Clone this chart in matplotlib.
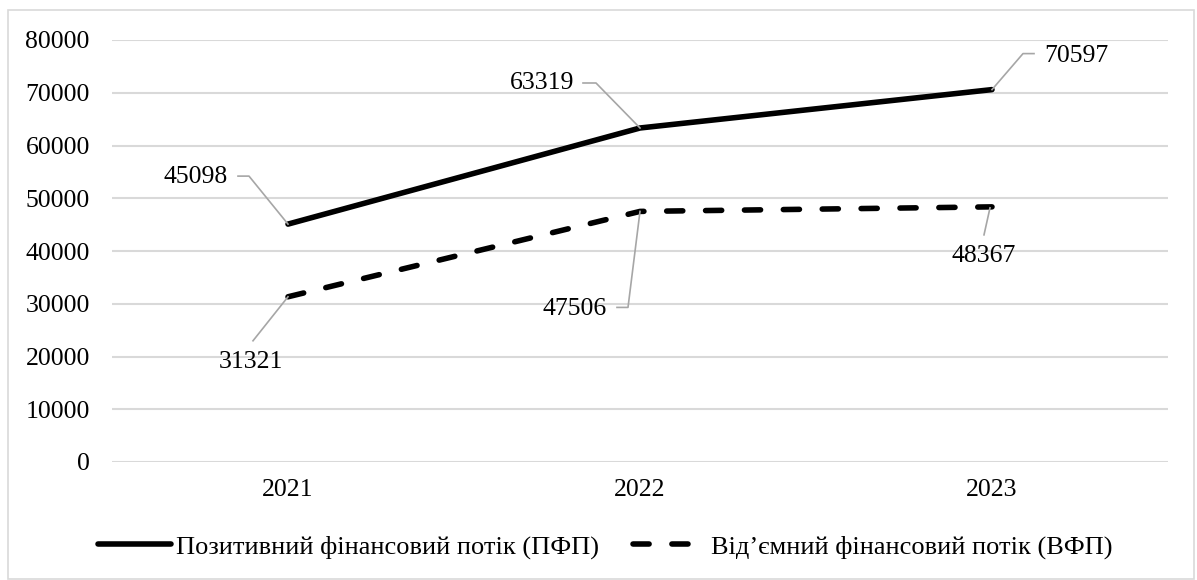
import numpy as np
import matplotlib
matplotlib.use("Agg")
import matplotlib.pyplot as plt
from matplotlib.lines import Line2D
from matplotlib.patches import Rectangle
from matplotlib.transforms import IdentityTransform

plt.rcParams['font.family'] = ['Liberation Serif', 'DejaVu Serif']

# дані
years = ['2021', '2022', '2023']
pfp = [45098, 63319, 70597]      # позитивний фінансовий потік
vfp = [31321, 47506, 48367]      # від'ємний фінансовий потік
pfp_name = 'Позитивний фінансовий потік (ПФП)'
vfp_name = 'Від’ємний фінансовий потік (ВФП)'

W, H = 1197, 580
fig = plt.figure(figsize=(W / 100, H / 100), dpi=100)
ax = fig.add_axes([112 / W, (H - 462) / H, 1056 / W, 422 / H])

x = np.arange(len(years))
ax.plot(x, pfp, color='black', lw=4.0, solid_capstyle='round', label=pfp_name)
ax.plot(x, vfp, color='black', lw=4.0, dash_capstyle='round',
        dashes=(2.9, 4.1), label=vfp_name)

ax.set_xlim(-0.5, 2.5)
ax.set_ylim(0, 80000)
ax.set_yticks(np.arange(0, 80001, 10000))
ax.set_xticks(x)
ax.set_xticklabels(years)
ax.tick_params(axis='both', length=0, labelsize=18.5)
ax.tick_params(axis='y', pad=16)
ax.tick_params(axis='x', pad=12)
ax.grid(axis='y', color='#d9d9d9', lw=1.5)
ax.set_axisbelow(True)
for s in ax.spines.values():
    s.set_visible(False)

# підписи з виносками (зсуви в пікселях: вправо, вниз)
pfp_off = [(-92, -47, [(-50, -48), (-39, -48), (0, 0)]),
           (-98, -45, [(-57, -45), (-44, -45), (0, 0)]),
           (84, -34, [(42, -36), (31, -36), (0, 0)])]
vfp_off = [(-37, 65, [(-35, 44), (0, 0)]),
           (-65, 98, [(-23, 96), (-12, 96), (0, 0)]),
           (-8, 49, [(-8, 28), (-2, 1)])]

fig.canvas.draw()
for vals, offs in ((pfp, pfp_off), (vfp, vfp_off)):
    for i, v in enumerate(vals):
        px, py = ax.transData.transform((x[i], v))
        tx, ty, path = offs[i]
        fig.text((px + tx) / W, (py - ty) / H, str(v), fontsize=18.5,
                 ha='center', va='center')
        fig.add_artist(Line2D([px + a for a, b in path], [py - b for a, b in path],
                              transform=IdentityTransform(), color='#a6a6a6', lw=1.2))

leg = fig.legend(loc='center left', bbox_to_anchor=(98 / W, (H - 547) / H), ncol=2,
                 frameon=False, fontsize=19, handlelength=2.75, handletextpad=0.2,
                 columnspacing=1.3, borderaxespad=0, borderpad=0)

fig.add_artist(Rectangle((8 / W, 1 / H), 1186 / W, (H - 11) / H, fill=False,
                         edgecolor='#d9d9d9', lw=1.2, transform=fig.transFigure))

fig.savefig('out.png', dpi=100, facecolor='white')
